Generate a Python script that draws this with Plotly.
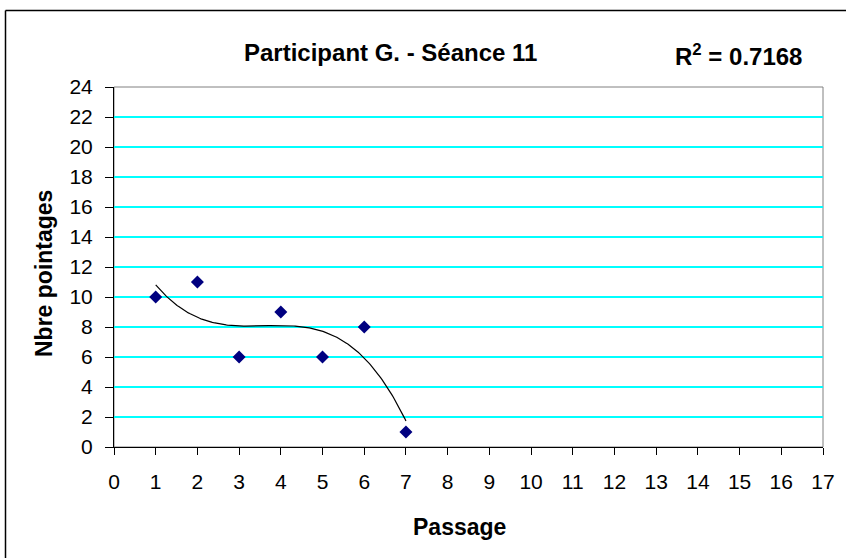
import numpy as np
import plotly.graph_objects as go

passage = [1, 2, 3, 4, 5, 6, 7]
pointages = [10, 11, 6, 9, 6, 8, 1]
trend_degree = 3
title_text = "Participant G. - Séance 11"
r2_label = "R<sup>2</sup> = 0.7168"
x_ticks = list(range(0, 18))
y_ticks = list(range(0, 26, 2))

coef = np.polyfit(passage, pointages, trend_degree)
xs = np.linspace(1, 7, 200)
ys = np.polyval(coef, xs)

W, H = 846, 558
L, R, T, B = 114, 823, 87, 447
pw, ph = R - L, B - T
def px(xp): return (xp - L) / pw
def py(yp): return (B - yp) / ph

FONT = "Liberation Sans, Arial, sans-serif"
TICK = 21
LAB = 23

fig = go.Figure()
fig.add_trace(go.Scatter(x=xs, y=ys, mode="lines",
                         line=dict(color="black", width=1.2), hoverinfo="skip"))
fig.add_trace(go.Scatter(x=passage, y=pointages, mode="markers",
                         marker=dict(symbol="diamond", size=10, color="#000080",
                                     line=dict(width=0))))

def ann(text, x, y, size, angle=0):
    return dict(text=text, xref="paper", yref="paper", x=px(x), y=py(y),
                xanchor="center", yanchor="middle", showarrow=False,
                textangle=angle, font=dict(size=size))

fig.update_layout(
    width=W, height=H, showlegend=False,
    margin=dict(l=L, r=W - R, t=T, b=H - B),
    paper_bgcolor="white", plot_bgcolor="white",
    font=dict(family=FONT, size=TICK, color="black"),
    xaxis=dict(range=[0, 17], tickvals=x_ticks, ticks="outside", ticklen=7,
               tickcolor="black", showgrid=False, showline=True, linecolor="black",
               linewidth=1, zeroline=False, tickfont=dict(size=TICK),
               ticklabelstandoff=9),
    yaxis=dict(range=[0, 24], tickvals=y_ticks, ticks="outside", ticklen=8,
               tickcolor="black", showgrid=True, gridcolor="#00FFFF", gridwidth=1.6,
               showline=True, linecolor="black", linewidth=1, zeroline=False,
               tickfont=dict(size=TICK), ticklabelstandoff=8),
    shapes=[
        dict(type="rect", xref="paper", yref="paper", x0=0, x1=1, y0=0, y1=1,
             line=dict(color="#808080", width=1), layer="below"),
        dict(type="line", xref="paper", yref="paper", x0=px(5.5), x1=px(5.5),
             y0=py(10.5), y1=py(700), line=dict(color="black", width=1.5)),
        dict(type="line", xref="paper", yref="paper", x0=px(5.5), x1=px(1000),
             y0=py(10.5), y1=py(10.5), line=dict(color="black", width=1.5)),
    ],
    annotations=[
        ann("<b>" + title_text + "</b>", 390, 53, 24),
        ann("<b>" + r2_label + "</b>", 738, 55, 24),
        ann("<b>Passage</b>", 459, 527, LAB),
        ann("<b>Nbre pointages</b>", 44, 274, LAB, -90),
    ],
)
fig.write_html("out.html", config={"displayModeBar": False},
               post_script="document.body.style.margin='0';")
